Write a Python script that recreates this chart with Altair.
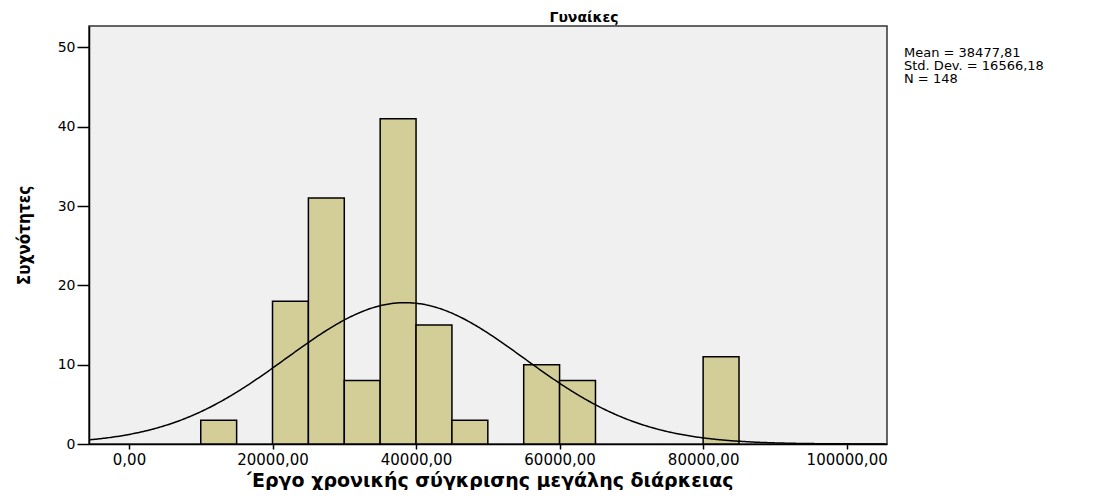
import altair as alt
import pandas as pd

# ---- data ----
bin_start = [10000, 20000, 25000, 30000, 35000, 40000, 45000, 55000, 60000, 80000]
bin_end = [15000, 25000, 30000, 35000, 40000, 45000, 50000, 60000, 65000, 85000]
counts = [3, 18, 31, 8, 41, 15, 3, 10, 8, 11]
x_ticks = [0, 20000, 40000, 60000, 80000, 100000]
y_ticks = [0, 10, 20, 30, 40, 50]
mean_val = 38477.81
sd_val = 16566.18
n_val = 148
bin_width = 5000
title_text = "Γυναίκες"
x_title = "΄Εργο χρονικής σύγκρισης μεγάλης διάρκειας"
y_title = "Συχνότητες"
stats_lines = [
    "Mean = " + f"{mean_val:.2f}".replace(".", ","),
    "Std. Dev. = " + f"{sd_val:.2f}".replace(".", ","),
    "N = " + str(n_val),
]

X_DOMAIN = [-5570, 105620]
Y_DOMAIN = [0, 52.7]

bars_df = pd.DataFrame({"start": bin_start, "end": bin_end, "count": counts})

FONT = "DejaVu Sans"

xscale = alt.Scale(domain=X_DOMAIN, nice=False, zero=False)
yscale = alt.Scale(domain=Y_DOMAIN, nice=False)

xaxis = alt.Axis(
    values=x_ticks,
    labelExpr="replace(format(datum.value, '.2f'), '.', ',')",
    title=x_title,
    grid=False,
    tickSize=5,
    labelPadding=3,
    labelFlush=False,
    labelOverlap=False,
    labelBound=False,
    labelFontSize=15,
    titleX=399,
    titleY=42,
    titleAlign="center",
    titleBaseline="alphabetic",
    titleFont=FONT,
    titleFontSize=19,
    titleFontWeight="bold",
)
yaxis = alt.Axis(
    values=y_ticks,
    title=y_title,
    grid=False,
    tickSize=12,
    labelPadding=2,
    labelFontSize=14,
    titleAngle=270,
    titleX=-65,
    titleY=209,
    titleAlign="center",
    titleBaseline="middle",
    titleFont="DejaVu Sans Condensed, Liberation Sans Narrow, DejaVu Sans",
    titleFontSize=17,
    titleFontWeight="bold",
)

bars = alt.Chart(bars_df).mark_bar(
    fill="#D3CE98", stroke="black", strokeWidth=1.5
).encode(
    x=alt.X("start:Q", scale=xscale, axis=xaxis),
    x2="end:Q",
    y=alt.Y("count:Q", scale=yscale, axis=yaxis),
    y2=alt.datum(0),
)

peak_expr = f"{n_val * bin_width}/({sd_val}*sqrt(2*PI))"
curve = alt.Chart(alt.sequence(X_DOMAIN[0], X_DOMAIN[1] + 1, 200, as_="v")).transform_calculate(
    f=f"{peak_expr}*exp(-0.5*pow((datum.v-{mean_val})/{sd_val},2))"
).mark_line(color="black", strokeWidth=1.5, clip=True).encode(
    x=alt.X("v:Q", scale=xscale, axis=xaxis),
    y=alt.Y("f:Q", scale=yscale, axis=yaxis),
)

one_row = pd.DataFrame({"k": [0]})

stats = alt.Chart(one_row).mark_text(
    text=stats_lines,
    align="left",
    baseline="alphabetic",
    font=FONT,
    fontSize=13,
    lineHeight=13,
    color="black",
).encode(x=alt.value(815), y=alt.value(31))

title = alt.Chart(one_row).mark_text(
    text=title_text,
    align="center",
    baseline="alphabetic",
    font=FONT,
    fontSize=14,
    fontWeight="bold",
    color="black",
).encode(x=alt.value(495), y=alt.value(-4))

chart = alt.layer(bars, curve, stats, title).properties(
    width=798,
    height=418,
    autosize=alt.AutoSizeParams(type="none"),
    padding={"left": 81, "top": 18, "right": 207, "bottom": 46},
    background="white",
).configure_view(
    fill="#F0F0F0", stroke="#333333", strokeWidth=1.5
).configure_axis(
    domainColor="black",
    domainWidth=1.5,
    tickColor="black",
    tickWidth=1.5,
    labelColor="black",
    labelFont=FONT,
    titleColor="black",
)

chart.save("out.html", embed_options={"renderer": "svg", "actions": False})
